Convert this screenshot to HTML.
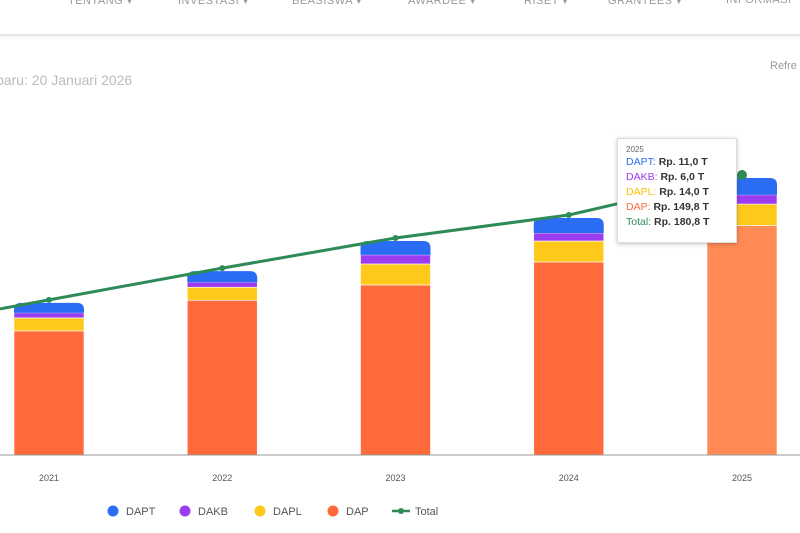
<!DOCTYPE html>
<html><head><meta charset="utf-8"><style>
body{margin:0;width:800px;height:533px;overflow:hidden;background:#fff;font-family:"Liberation Sans",sans-serif}
.nav{position:absolute;top:-6px;left:0;width:800px;height:40px;border-bottom:2px solid #e6e6e6;box-shadow:0 1px 3px #eee}
.nav span{position:absolute;top:0;font-size:11px;color:#999;letter-spacing:.5px}
.tt{position:absolute;left:617px;top:138px;width:120px;height:105px;background:#fff;border:1px solid #ddd;box-shadow:0 1px 4px rgba(0,0,0,.25);font-size:10.5px;line-height:15px;padding:6px 0 0 8px;box-sizing:border-box}
.tt b{color:#333}
</style></head><body>
<div class="nav">
<span style="left:68px">TENTANG ▾</span>
<span style="left:178px">INVESTASI ▾</span>
<span style="left:292px">BEASISWA ▾</span>
<span style="left:408px">AWARDEE ▾</span>
<span style="left:524px">RISET ▾</span>
<span style="left:608px">GRANTEES ▾</span>
<span style="left:726px">INFORMASI</span>
</div>
<div style="position:absolute;left:-4px;top:72px;font-size:14px;color:#bbb">baru: 20 Januari 2026</div>
<div style="position:absolute;left:770px;top:60px;font-size:11px;color:#999">Refre</div>
<svg id="c" width="800" height="533" style="position:absolute;left:0;top:0"></svg>
<div class="tt">
<div style="font-size:8px;color:#666;line-height:10px">2025</div>
<div><span style="color:#2a6df4">DAPT:</span> <b>Rp. 11,0 T</b></div>
<div><span style="color:#9b3cf0">DAKB:</span> <b>Rp. 6,0 T</b></div>
<div><span style="color:#f5c400">DAPL:</span> <b>Rp. 14,0 T</b></div>
<div><span style="color:#ff6a3a">DAP:</span> <b>Rp. 149,8 T</b></div>
<div><span style="color:#2e8b57">Total:</span> <b>Rp. 180,8 T</b></div>
</div>
<script>
const years=["2021","2022","2023","2024","2025"];
const dap=[81,101,111,126,149.8];
const dapl=[8.5,8.5,13.7,13.7,14];
const dakb=[3.3,3.3,5.9,5.2,6];
const dapt=[6.5,7.2,9.1,9.8,11];
const total=[99.3,120,139.7,154.7,180.8];
const NS="http://www.w3.org/2000/svg",svg=document.getElementById('c');
const base=455,k=1.532;
const y=v=>base-v*k, x=i=>49+i*173.25;
function mk(t,a){const e=document.createElementNS(NS,t);for(const n in a)e.setAttribute(n,a[n]);svg.appendChild(e);return e;}
const series=[["dap",dap,"#ff6a3a"],["dapl",dapl,"#ffc91c"],["dakb",dakb,"#9b3cf0"],["dapt",dapt,"#2a6df4"]];
years.forEach((yr,i)=>{
 let acc=0;
 series.forEach(([n,arr,col],si)=>{
  const y0=y(acc),y1=y(acc+arr[i]);acc+=arr[i];
  const fill=(i==4&&n=="dap")?"#ff8a55":col;
  const r=mk(si==3?"path":"rect",si==3?{d:`M${x(i)-35},${y0} V${y1+7} Q${x(i)-35},${y1} ${x(i)-28},${y1} H${x(i)+28} Q${x(i)+35},${y1} ${x(i)+35},${y1+7} V${y0} Z`,fill}:{x:x(i)-35,y:y1,width:70,height:y0-y1,fill,stroke:"#fff","stroke-width":0.6});
  
  
 });
 const t=mk("text",{x:x(i),y:481,"font-size":9,fill:"#555","text-anchor":"middle"});t.textContent=yr;
 
 
});
const ax=mk("line",{x1:0,x2:800,y1:base,y2:base,stroke:"#999","stroke-width":1});


const pts=total.map((v,i)=>[x(i),y(v)-3]);
const s=(pts[1][1]-pts[0][1])/(pts[1][0]-pts[0][0]);
const first=[0,pts[0][1]-s*pts[0][0]];
const line=mk("polyline",{points:[first,...pts].map(p=>p.join(",")).join(" "),fill:"none",stroke:"#2e8b57","stroke-width":3});


pts.forEach((p,i)=>{const c=mk("circle",{cx:p[0],cy:p[1],r:i==4?5:3,fill:"#2e8b57"});
 
 });
const leg=[["DAPT","#2a6df4",113],["DAKB","#9b3cf0",185],["DAPL","#ffc91c",260],["DAP","#ff6a3a",333]];
leg.forEach(([n,c,lx])=>{const g=mk("circle",{cx:lx,cy:511,r:5.5,fill:c});
 
 
 const t=mk("text",{x:lx+13,y:515,"font-size":11,fill:"#555"});t.textContent=n;
 
 });
const ll=mk("line",{x1:392,x2:410,y1:511,y2:511,stroke:"#2e8b57","stroke-width":2.5});


mk("circle",{cx:401,cy:511,r:3,fill:"#2e8b57"});
const lt=mk("text",{x:415,y:515,"font-size":11,fill:"#555"});lt.textContent="Total";


</script>
</body></html>
